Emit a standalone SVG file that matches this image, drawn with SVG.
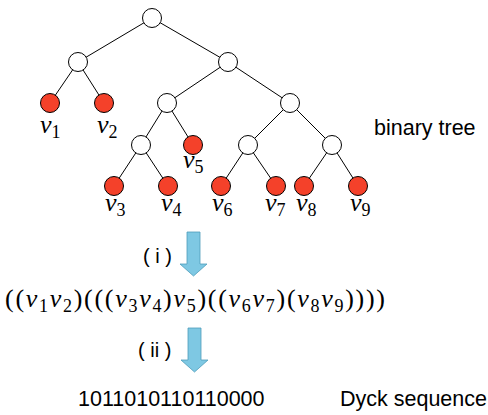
<svg xmlns="http://www.w3.org/2000/svg" width="488" height="415" viewBox="0 0 488 415">
  <style>
    .edge { stroke: #000; stroke-width: 1; fill: none; }
    .inner { fill: #fff; stroke: #000; stroke-width: 1; }
    .leaf { fill: #F4412A; stroke: #000; stroke-width: 1; }
    .math { font-family: "Liberation Serif", "DejaVu Serif", serif; font-style: italic; font-size: 26px; fill: #000; }
    .sub { font-style: normal; font-size: 18px; }
    .paren { font-style: normal; }
    .sans { font-family: "Liberation Sans", Arial, sans-serif; font-size: 21.5px; fill: #000; }
    .step { font-size: 20px; }
    .arrow { fill: #7EC8E3; stroke: #4E9DBA; stroke-width: 0.8; }
  </style>
  <rect width="488" height="415" fill="#fff"/>

  <!-- tree edges -->
  <g id="edges">
    <line class="edge" x1="152" y1="18" x2="78" y2="62"/>
    <line class="edge" x1="152" y1="18" x2="228" y2="62"/>
    <line class="edge" x1="78" y1="62" x2="50" y2="103"/>
    <line class="edge" x1="78" y1="62" x2="104" y2="103"/>
    <line class="edge" x1="228" y1="62" x2="167" y2="103"/>
    <line class="edge" x1="228" y1="62" x2="290" y2="103"/>
    <line class="edge" x1="167" y1="103" x2="141" y2="145"/>
    <line class="edge" x1="167" y1="103" x2="193" y2="145"/>
    <line class="edge" x1="290" y1="103" x2="248" y2="145"/>
    <line class="edge" x1="290" y1="103" x2="332" y2="145"/>
    <line class="edge" x1="141" y1="145" x2="114" y2="186"/>
    <line class="edge" x1="141" y1="145" x2="168" y2="186"/>
    <line class="edge" x1="248" y1="145" x2="221" y2="186"/>
    <line class="edge" x1="248" y1="145" x2="276" y2="186"/>
    <line class="edge" x1="332" y1="145" x2="304" y2="186"/>
    <line class="edge" x1="332" y1="145" x2="358" y2="186"/>
  </g>

  <!-- internal nodes -->
  <g id="n-root"><circle class="inner" cx="152" cy="18" r="9.5"/></g>
  <g id="n-l"><circle class="inner" cx="78" cy="62" r="9.5"/></g>
  <g id="n-r"><circle class="inner" cx="228" cy="62" r="9.5"/></g>
  <g id="n-rl"><circle class="inner" cx="167" cy="103" r="9.5"/></g>
  <g id="n-rr"><circle class="inner" cx="290" cy="103" r="9.5"/></g>
  <g id="n-rll"><circle class="inner" cx="141" cy="145" r="9.5"/></g>
  <g id="n-rrl"><circle class="inner" cx="248" cy="145" r="9.5"/></g>
  <g id="n-rrr"><circle class="inner" cx="332" cy="145" r="9.5"/></g>

  <!-- leaves -->
  <g id="v1"><circle class="leaf" cx="50" cy="103" r="9.5"/>
    <text class="math" x="40" y="133">v<tspan class="sub" dy="5">1</tspan></text></g>
  <g id="v2"><circle class="leaf" cx="104" cy="103" r="9.5"/>
    <text class="math" x="97" y="133">v<tspan class="sub" dy="5">2</tspan></text></g>
  <g id="v3"><circle class="leaf" cx="114" cy="186" r="9.5"/>
    <text class="math" x="105" y="211">v<tspan class="sub" dy="5">3</tspan></text></g>
  <g id="v4"><circle class="leaf" cx="168" cy="186" r="9.5"/>
    <text class="math" x="161" y="211">v<tspan class="sub" dy="5">4</tspan></text></g>
  <g id="v5"><circle class="leaf" cx="193" cy="145" r="9.5"/>
    <text class="math" x="183" y="168">v<tspan class="sub" dy="5">5</tspan></text></g>
  <g id="v6"><circle class="leaf" cx="221" cy="186" r="9.5"/>
    <text class="math" x="212" y="211">v<tspan class="sub" dy="5">6</tspan></text></g>
  <g id="v7"><circle class="leaf" cx="276" cy="186" r="9.5"/>
    <text class="math" x="265" y="211">v<tspan class="sub" dy="5">7</tspan></text></g>
  <g id="v8"><circle class="leaf" cx="304" cy="186" r="9.5"/>
    <text class="math" x="296" y="211">v<tspan class="sub" dy="5">8</tspan></text></g>
  <g id="v9"><circle class="leaf" cx="358" cy="186" r="9.5"/>
    <text class="math" x="350" y="211">v<tspan class="sub" dy="5">9</tspan></text></g>

  <g id="label-tree"><text class="sans" x="374" y="135">binary tree</text></g>

  <!-- step (i) -->
  <g id="step-i">
    <path class="arrow" d="M187,232 H200 V264 H207 L193.5,276 L180,264 H187 Z"/>
    <text class="sans step" x="143" y="263">( i )</text>
  </g>

  <!-- bracket expression -->
  <g id="expression">
    <text class="math" x="5" y="307" textLength="380" lengthAdjust="spacing"><tspan class="paren">((</tspan>v<tspan class="sub" dy="5">1</tspan><tspan dy="-5">v</tspan><tspan class="sub" dy="5">2</tspan><tspan class="paren" dy="-5">)(((</tspan>v<tspan class="sub" dy="5">3</tspan><tspan dy="-5">v</tspan><tspan class="sub" dy="5">4</tspan><tspan class="paren" dy="-5">)</tspan>v<tspan class="sub" dy="5">5</tspan><tspan class="paren" dy="-5">)((</tspan>v<tspan class="sub" dy="5">6</tspan><tspan dy="-5">v</tspan><tspan class="sub" dy="5">7</tspan><tspan class="paren" dy="-5">)(</tspan>v<tspan class="sub" dy="5">8</tspan><tspan dy="-5">v</tspan><tspan class="sub" dy="5">9</tspan><tspan class="paren" dy="-5">))))</tspan></text>
  </g>

  <!-- step (ii) -->
  <g id="step-ii">
    <path class="arrow" d="M188,328 H201 V360 H208 L194.5,372 L181,360 H188 Z"/>
    <text class="sans step" x="138" y="357">( ii )</text>
  </g>

  <g id="sequence"><text class="sans" x="78" y="406">1011010110110000</text></g>
  <g id="label-dyck"><text class="sans" x="340" y="406">Dyck sequence</text></g>
</svg>
